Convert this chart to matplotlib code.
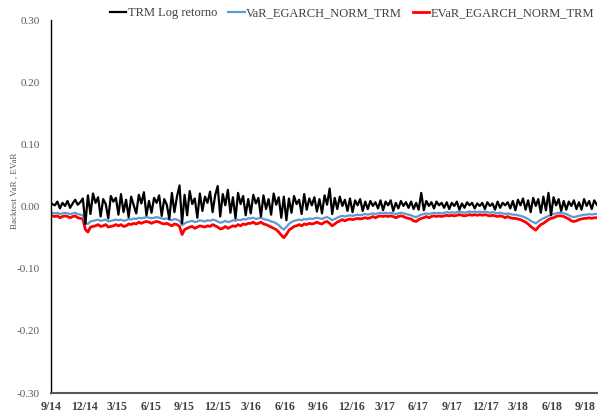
import matplotlib
matplotlib.use("Agg")
import matplotlib.pyplot as plt
import matplotlib.dates as mdates
import pandas as pd

# weekly samples (sep 2014 - oct 2018)
start_date = "2014-09-05"
end_date = "2018-10-02"

trm_log_ret = [
    0.004, 0.002, 0.008, -0.003, 0.006, 0.001, 0.009, -0.002, 0.005, 0.011, 0.003, 0.007, 0.013,
    -0.028, 0.018, -0.012, 0.021, 0.006, 0.015, -0.016, 0.012, 0.004, -0.019, 0.017, 0.008, 0.014,
    -0.013, 0.020, -0.009, 0.011, -0.017, 0.016, 0.002, -0.011, 0.019, 0.005, 0.023, -0.014, 0.009,
    -0.010, 0.014, 0.006, 0.018, -0.015, 0.012, 0.003, -0.020, 0.022, -0.009, 0.016, 0.034, -0.027,
    0.019, -0.014, 0.025, 0.004, 0.013, -0.018, 0.021, -0.007, 0.016, 0.006, 0.024, -0.009, 0.018,
    0.033, -0.016, 0.020, 0.002, 0.027, -0.010, 0.015, -0.019, 0.022, 0.004, 0.017, -0.014, 0.012,
    -0.011, 0.019, 0.005, 0.014, -0.016, 0.018, -0.004, 0.012, -0.013, 0.021, 0.003, 0.015, -0.018,
    0.016, -0.022, 0.013, -0.010, 0.017, 0.004, 0.011, -0.012, 0.020, -0.005, 0.013, 0.002, 0.015,
    -0.008, 0.012, -0.011, 0.018, 0.003, 0.029, -0.012, 0.014, -0.004, 0.016, 0.001, 0.011, -0.007,
    0.013, -0.009, 0.010, 0.002, 0.012, -0.007, 0.008, -0.004, 0.009, 0.001, 0.007, -0.003, 0.010,
    -0.006, 0.008, 0.002, 0.010, -0.007, 0.006, -0.003, 0.009, 0.001, 0.007, -0.002, 0.008, -0.004,
    0.006, -0.005, 0.022, -0.006, 0.009, 0.001, 0.007, -0.003, 0.008, 0.002, 0.006, -0.002, 0.007,
    -0.004, 0.006, 0.001, 0.008, -0.005, 0.005, -0.002, 0.007, 0.002, 0.006, -0.003, 0.005, 0.001,
    0.006, -0.004, 0.007, 0.001, 0.005, -0.005, 0.008, -0.002, 0.006, 0.002, 0.007, -0.003, 0.009,
    -0.006, 0.011, 0.002, 0.013, -0.005, 0.010, -0.009, 0.014, 0.001, 0.012, -0.010, 0.016, -0.006,
    0.022, -0.014, 0.015, 0.002, 0.012, -0.007, 0.009, -0.005, 0.008, 0.001, 0.010, -0.004, 0.007,
    -0.005, 0.012, 0.001, 0.009, -0.004, 0.010, 0.003,
]

var_egarch = [
    -0.010, -0.011, -0.010, -0.012, -0.011, -0.010, -0.011, -0.012, -0.011, -0.010, -0.012, -0.013, -0.014,
    -0.026, -0.028, -0.024, -0.023, -0.022, -0.021, -0.023, -0.022, -0.021, -0.024, -0.023, -0.022, -0.021,
    -0.022, -0.021, -0.023, -0.022, -0.020, -0.021, -0.019, -0.020, -0.018, -0.019, -0.018, -0.017, -0.018,
    -0.019, -0.018, -0.017, -0.018, -0.019, -0.020, -0.019, -0.021, -0.022, -0.020, -0.021, -0.023, -0.030,
    -0.027, -0.025, -0.024, -0.023, -0.025, -0.024, -0.022, -0.023, -0.024, -0.022, -0.023, -0.021, -0.022,
    -0.024, -0.026, -0.025, -0.023, -0.025, -0.024, -0.022, -0.023, -0.021, -0.022, -0.020, -0.021, -0.019,
    -0.019, -0.018, -0.020, -0.019, -0.018, -0.020, -0.021, -0.022, -0.024, -0.025, -0.027, -0.030, -0.034,
    -0.037, -0.033, -0.028, -0.025, -0.023, -0.022, -0.021, -0.022, -0.020, -0.021, -0.019, -0.020, -0.019,
    -0.018, -0.019, -0.020, -0.018, -0.017, -0.019, -0.022, -0.020, -0.018, -0.016, -0.015, -0.016, -0.015,
    -0.014, -0.015, -0.014, -0.013, -0.014, -0.013, -0.012, -0.013, -0.012, -0.011, -0.012, -0.011, -0.010,
    -0.011, -0.010, -0.011, -0.010, -0.011, -0.012, -0.011, -0.010, -0.011, -0.012, -0.013, -0.014, -0.016,
    -0.017, -0.015, -0.013, -0.012, -0.011, -0.012, -0.011, -0.010, -0.011, -0.010, -0.011, -0.010, -0.009,
    -0.010, -0.009, -0.010, -0.009, -0.008, -0.009, -0.010, -0.009, -0.008, -0.009, -0.008, -0.009, -0.008,
    -0.009, -0.008, -0.009, -0.010, -0.009, -0.010, -0.011, -0.010, -0.011, -0.012, -0.011, -0.012, -0.013,
    -0.013, -0.014, -0.015, -0.016, -0.018, -0.020, -0.023, -0.025, -0.027, -0.024, -0.021, -0.019, -0.017,
    -0.015, -0.013, -0.012, -0.011, -0.010, -0.010, -0.011, -0.012, -0.014, -0.016, -0.017, -0.016, -0.015,
    -0.014, -0.013, -0.013, -0.012, -0.013, -0.012, -0.012,
]

evar_egarch = [
    -0.015, -0.016, -0.015, -0.018, -0.016, -0.015, -0.016, -0.018, -0.016, -0.015, -0.018, -0.019, -0.020,
    -0.037, -0.041, -0.033, -0.032, -0.031, -0.029, -0.032, -0.031, -0.029, -0.033, -0.032, -0.031, -0.029,
    -0.031, -0.029, -0.032, -0.031, -0.028, -0.029, -0.027, -0.028, -0.025, -0.027, -0.025, -0.024, -0.025,
    -0.027, -0.025, -0.024, -0.025, -0.027, -0.028, -0.027, -0.029, -0.031, -0.028, -0.029, -0.032, -0.045,
    -0.037, -0.035, -0.033, -0.032, -0.035, -0.033, -0.031, -0.032, -0.033, -0.031, -0.032, -0.029, -0.031,
    -0.033, -0.036, -0.035, -0.032, -0.035, -0.033, -0.031, -0.032, -0.029, -0.031, -0.028, -0.029, -0.027,
    -0.027, -0.025, -0.028, -0.027, -0.025, -0.028, -0.029, -0.031, -0.033, -0.035, -0.037, -0.041, -0.046,
    -0.050, -0.045, -0.038, -0.035, -0.032, -0.031, -0.029, -0.031, -0.028, -0.029, -0.027, -0.028, -0.027,
    -0.025, -0.027, -0.028, -0.025, -0.024, -0.027, -0.031, -0.028, -0.025, -0.023, -0.021, -0.023, -0.021,
    -0.020, -0.021, -0.020, -0.019, -0.020, -0.019, -0.018, -0.019, -0.018, -0.016, -0.018, -0.016, -0.015,
    -0.016, -0.015, -0.016, -0.015, -0.016, -0.018, -0.016, -0.015, -0.016, -0.018, -0.019, -0.020, -0.023,
    -0.024, -0.021, -0.019, -0.018, -0.016, -0.018, -0.016, -0.015, -0.016, -0.015, -0.016, -0.015, -0.014,
    -0.015, -0.014, -0.015, -0.014, -0.013, -0.014, -0.015, -0.014, -0.013, -0.014, -0.013, -0.014, -0.013,
    -0.014, -0.013, -0.014, -0.015, -0.014, -0.015, -0.016, -0.015, -0.016, -0.018, -0.016, -0.018, -0.019,
    -0.019, -0.020, -0.021, -0.023, -0.025, -0.028, -0.032, -0.035, -0.038, -0.033, -0.029, -0.027, -0.024,
    -0.021, -0.019, -0.018, -0.016, -0.015, -0.015, -0.016, -0.018, -0.020, -0.023, -0.024, -0.023, -0.021,
    -0.020, -0.019, -0.019, -0.018, -0.019, -0.018, -0.018,
]

dates = pd.date_range(start_date, end_date, periods=len(trm_log_ret))

plt.rcParams["font.family"] = ["Liberation Serif", "DejaVu Serif"]

fig = plt.figure(figsize=(5.98, 4.19), dpi=100)
ax = fig.add_axes([0.085, 0.062, 0.913, 0.890])

ax.plot(dates, evar_egarch, color="#FF0000", lw=2.0, label="EVaR_EGARCH_NORM_TRM", zorder=2)
ax.plot(dates, var_egarch, color="#5B9BD5", lw=1.6, label="VaR_EGARCH_NORM_TRM", zorder=2.5)
ax.plot(dates, trm_log_ret, color="black", lw=1.6, label="TRM Log retorno", zorder=3)

ax.set_ylim(-0.30, 0.30)
ax.set_yticks([-0.3, -0.2, -0.1, 0.0, 0.1, 0.2, 0.3])
ax.set_yticklabels(["%.2f" % v for v in ax.get_yticks()])
ax.set_xlim(pd.Timestamp("2014-09-01"), pd.Timestamp("2018-10-02"))
ax.xaxis.set_major_locator(mdates.MonthLocator(bymonth=[3, 6, 9, 12]))
ax.xaxis.set_major_formatter(mdates.DateFormatter("%-m/%y"))

ax.spines["top"].set_visible(False)
ax.spines["right"].set_visible(False)
ax.spines["left"].set_color("black")
ax.spines["left"].set_linewidth(1.0)
ax.spines["bottom"].set_color("#595959")
ax.spines["bottom"].set_linewidth(1.5)
ax.tick_params(axis="y", length=0, labelsize=8, labelcolor="#595959", pad=8)
ax.tick_params(axis="x", length=0, labelsize=8.5, labelcolor="#404040", pad=6)
for lbl in ax.get_xticklabels():
    lbl.set_fontweight("bold")

fig.text(0.024, 0.545, "Backtest VaR , EVaR", rotation=90, fontsize=6.5,
         color="#595959", ha="center", va="center")

h, l = ax.get_legend_handles_labels()
fig.legend(h[::-1], l[::-1], loc="upper right", bbox_to_anchor=(1.012, 1.01), ncol=3,
           frameon=False, fontsize=9, handlelength=1.3, handletextpad=0.1,
           columnspacing=0.9, labelcolor="#404040")

fig.savefig("out.png", dpi=100)
